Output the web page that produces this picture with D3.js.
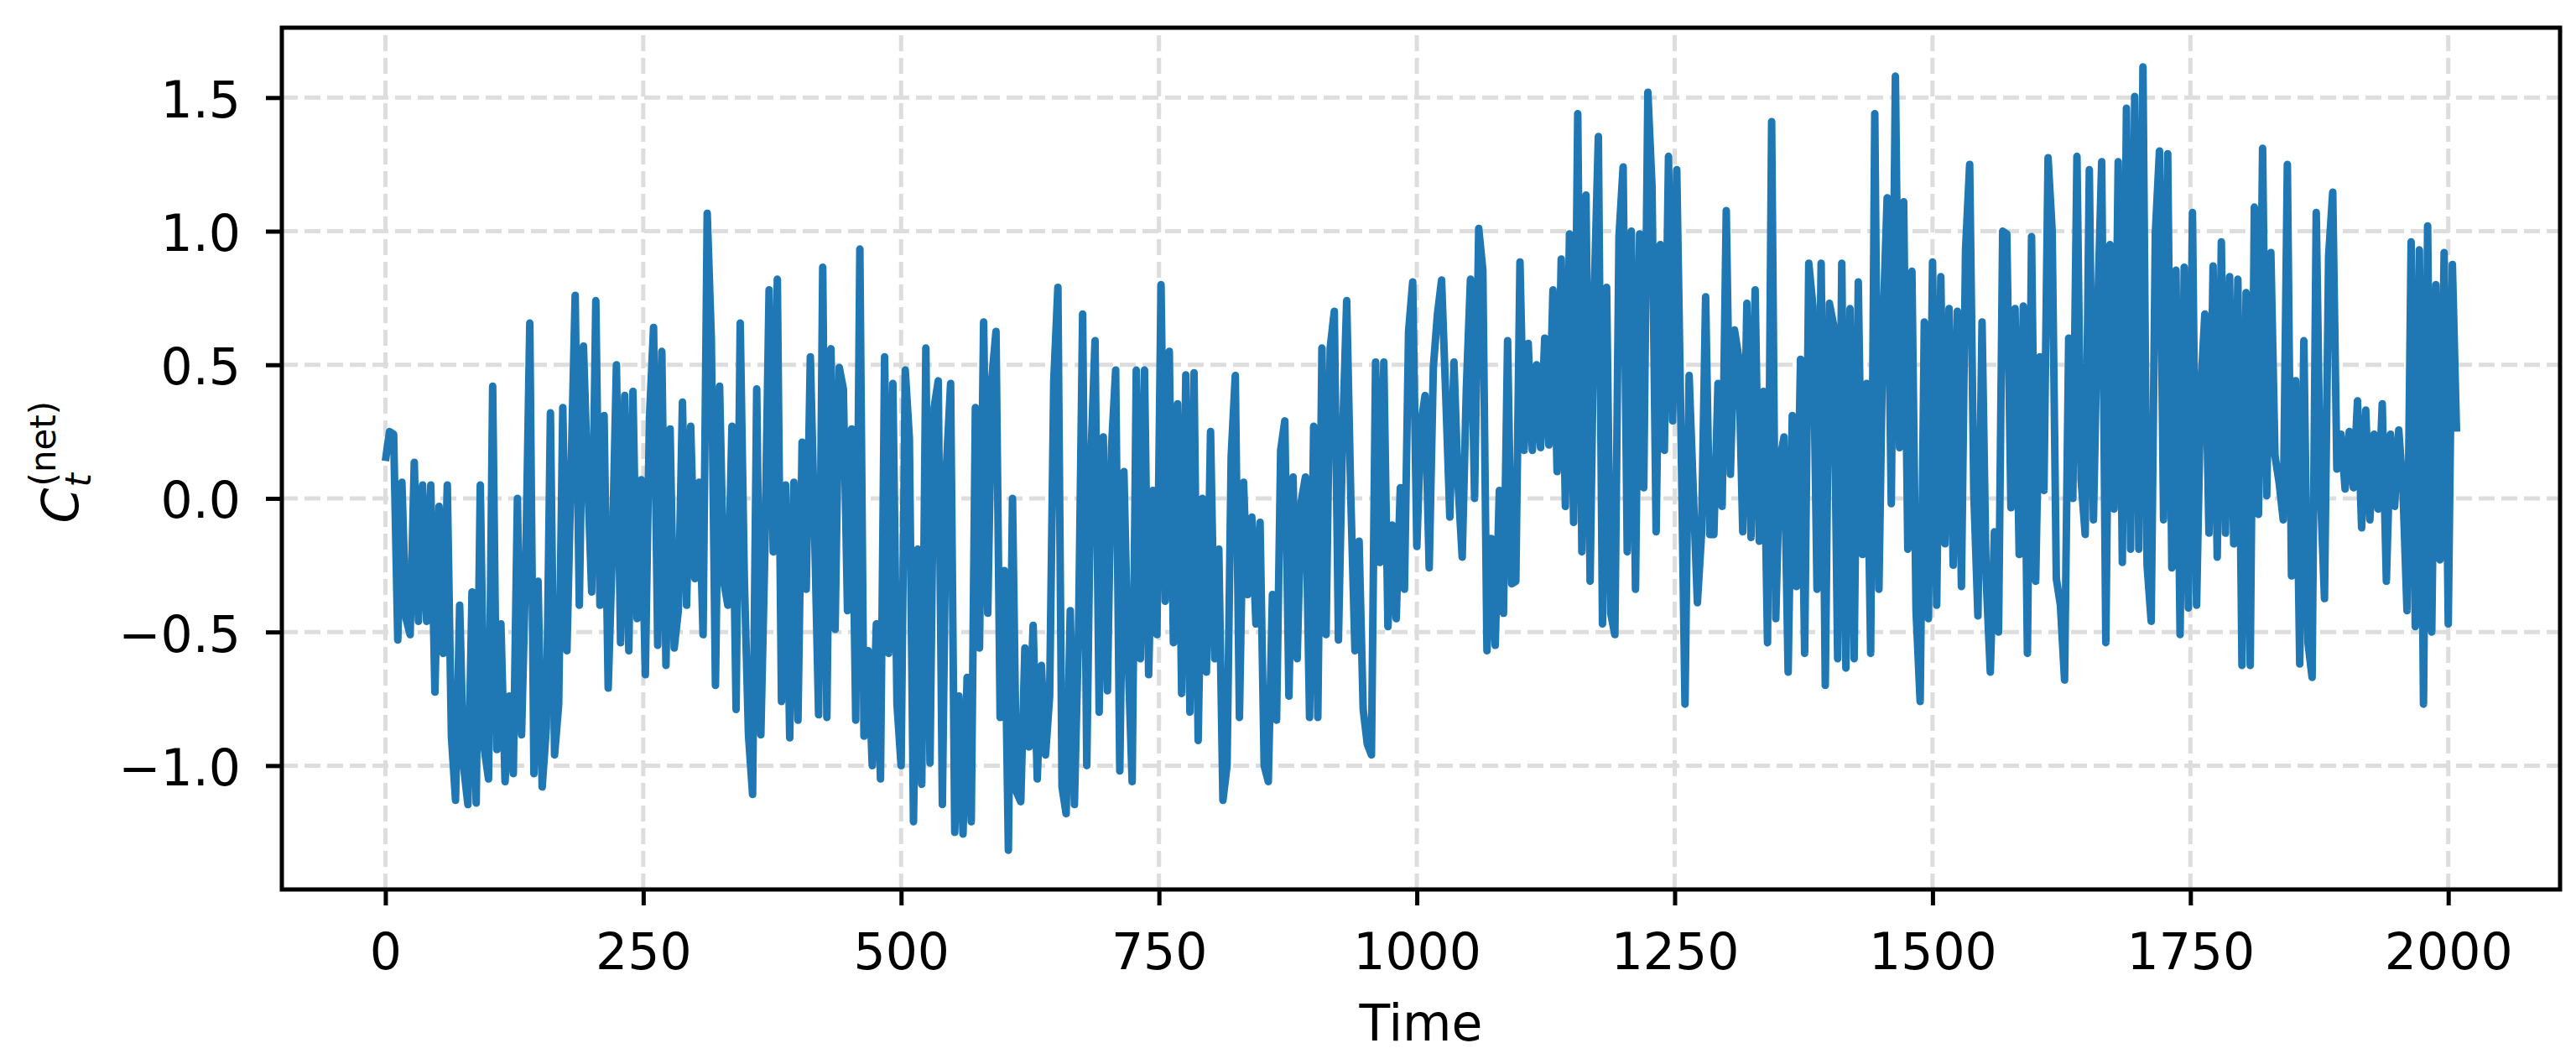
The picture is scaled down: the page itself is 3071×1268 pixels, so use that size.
<!DOCTYPE html>
<html><head><meta charset="utf-8">
<script src="https://cdn.jsdelivr.net/npm/d3@7/dist/d3.min.js"></script>
<style>html,body{margin:0;padding:0;background:#fff;} svg{display:block;}</style>
</head><body>
<svg id="chart" width="3071" height="1268"></svg>
<script>
// ---- data (one value every 4 time steps) ----
const timeStep = 4;
const segmentStarts = [0, 248, 500, 752, 1000, 1256, 1508, 1756];
const valuesA = [0.14,0.25,0.24,-0.53,0.06,-0.45,-0.51,0.135,-0.46,0.05,
  -0.46,0.05,-0.725,-0.03,-0.58,0.05,-0.89,-1.13,-0.40,-1.01,
  -1.146,-0.35,-1.14,0.05,-0.94,-1.05,0.42,-0.94,-0.47,-1.06,
  -0.74,-1.03,0.0,-0.885,-0.26,0.656,-1.03,-0.31,-1.08,-0.86,
  0.32,-0.96,-0.77,0.34,-0.57,0.10,0.76,-0.40,0.57,0.09,
  -0.35,0.74,-0.40,0.31,-0.71,-0.2,0.50,-0.54,0.385,-0.57,
  0.40,-0.45];
const valuesB = [0.07,-0.66,0.3,0.64,-0.55,0.55,-0.625,0.26,-0.56,-0.42,
  0.36,-0.40,0.27,-0.30,0.06,-0.51,1.067,0.60,-0.70,0.42,
  -0.31,-0.40,0.27,-0.79,0.656,-0.3,-0.885,-1.108,0.41,-0.885,
  -0.18,0.78,-0.2,0.82,-0.76,0.05,-0.896,0.06,-0.83,0.21,
  -0.34,0.53,-0.1,-0.81,0.865,-0.82,0.56,-0.49,0.49,0.41,
  -0.42,0.26,-0.83,0.933,-0.89,-0.57,-1.0,-0.47,-1.05,0.53,
  -0.58,0.43,-0.77];
const valuesC = [-1.0,0.48,0.225,-1.21,-0.19,-1.07,0.5625,-0.99,0.34,0.44,
  -1.146,0.125,0.43,-1.25,-0.74,-1.256,-0.67,-1.21,0.34,-0.56,
  0.66,-0.43,0.45,0.625,-0.82,-0.27,-1.317,0.0,-1.1,-1.135,
  -0.56,-0.93,-0.475,-1.05,-0.625,-0.96,-0.74,0.44,0.79,-1.08,
  -1.18,-0.42,-1.146,-0.5,0.69,-1.0,0.146,0.59,-0.80,0.23,
  -0.72,0.19,0.48,-1.02,0.1,-0.58,-1.06,0.48,-0.60,0.48,
  -0.66,0.03,-0.51];
const valuesD = [0.80,-0.385,0.55,-0.54,0.354,-0.73,0.4625,-0.80,0.47,-0.906,
  0.0,-0.65,0.25,-0.60,-0.19,-1.13,-1.0,0.156,0.46,-0.82,
  0.06,-0.36,-0.07,-0.47,-0.09,-1.0,-1.06,-0.36,-0.83,0.18,
  0.29,-0.74,0.08,-0.60,-0.01,0.08,-0.82,0.27,-0.82,0.5625,
  -0.51,0.5625,0.70,-0.53,0.23,0.74,0.0,-0.57,-0.16,-0.79,
  -0.92,-0.96,0.51,-0.24,0.51,-0.48,-0.1,-0.45,0.04,-0.34,
  0.625,0.81];
const valuesE = [-0.18,0.28,0.385,-0.26,0.49,0.69,0.817,0.39,-0.07,0.51,
  0.05,-0.22,0.41,0.82,0.0,1.01,0.854,-0.57,-0.15,-0.55,
  0.03,-0.43,0.59,-0.32,-0.31,0.885,0.18,0.58,0.18,0.50,
  0.19,0.60,0.20,0.78,0.10,0.896,-0.03,0.99,-0.09,1.44,
  -0.20,1.135,-0.31,0.77,1.354,-0.47,0.79,-0.43,-0.51,0.98,
  1.24,-0.20,1.0,-0.34,0.99,0.04,1.52,1.17,-0.125,0.95,
  0.18,1.28,0.29,1.23];
const valuesF = [0.28,-0.77,0.46,0.03,-0.39,-0.135,0.754,-0.135,-0.135,0.43,
  -0.03,1.077,0.09,0.63,0.53,-0.125,0.73,-0.146,0.78,-0.16,
  0.40,-0.54,1.41,-0.45,0.146,0.23,-0.65,0.31,-0.33,0.52,
  -0.58,0.88,0.72,-0.34,0.88,-0.70,0.73,0.65,-0.60,0.88,
  -0.635,0.71,-0.60,0.81,-0.21,0.43,-0.58,1.44,-0.34,0.65,
  1.125,-0.02,1.58,0.19,1.11,-0.19,0.85,-0.42,-0.76,0.66,
  -0.45,0.885,-0.40];
const valuesG = [0.83,-0.17,0.71,-0.25,0.70,-0.33,0.93,1.25,0.02,-0.44,
  0.66,-0.30,-0.65,-0.125,-0.50,1.0,0.99,-0.035,0.71,-0.21,
  0.72,-0.58,0.98,-0.31,0.53,0.03,1.275,1.0,-0.30,-0.40,
  -0.68,0.60,0.0,1.28,0.07,-0.135,1.23,-0.08,0.69,1.26,
  -0.54,0.95,-0.04,1.26,-0.24,1.46,-0.19,1.504,-0.19,1.615,
  -0.25,-0.46,0.99,1.30,-0.08,1.29,-0.26,0.854,-0.51,0.865,
  -0.41,1.07];
const valuesH = [-0.40,0.40,0.69,-0.13,0.87,-0.22,0.96,-0.13,0.83,-0.17,
  0.82,-0.625,0.77,-0.625,1.09,-0.06,1.31,0.01,0.92,0.16,
  0.06,-0.08,1.25,-0.29,0.44,-0.62,0.59,-0.54,-0.67,1.07,
  0.04,-0.375,0.906,1.146,0.11,0.24,0.035,0.25,0.04,0.365,
  -0.11,0.33,-0.08,0.24,-0.04,0.354,-0.31,0.24,-0.03,0.256,
  0.04,-0.42,0.96,-0.48,0.93,-0.77,1.02,-0.5,0.80,-0.23,
  0.92,-0.47,0.875,0.25];
const xTicks = [0, 250, 500, 750, 1000, 1250, 1500, 1750, 2000];
const yTicks = [-1.0, -0.5, 0.0, 0.5, 1.0, 1.5];
const xLabel = "Time";

// ---- build series ----
const segments = [valuesA, valuesB, valuesC, valuesD, valuesE, valuesF, valuesG, valuesH];
const data = [];
segments.forEach((seg, k) => seg.forEach((v, i) => data.push({t: segmentStarts[k] + i * timeStep, v})));

const W = 3071, H = 1268;
const L = 336, R = 3052, T = 33, B = 1060;
const FONT = "'DejaVu Sans', sans-serif";
const FS = 60;

const tExt = d3.extent(data, d => d.t);
const tPad = (tExt[1] - tExt[0]) * 0.05;
const vExt = d3.extent(data, d => d.v);
const vPad = (vExt[1] - vExt[0]) * 0.05;
const x = d3.scaleLinear().domain([tExt[0] - tPad, tExt[1] + tPad]).range([L, R]);
const y = d3.scaleLinear().domain([vExt[0] - vPad, vExt[1] + vPad]).range([B, T]);

const svg = d3.select("#chart");
svg.append("rect").attr("width", W).attr("height", H).attr("fill", "#fff");

// grid
const grid = svg.append("g").attr("stroke", "#dddddd").attr("stroke-width", 5)
  .attr("stroke-dasharray", "19,8");
grid.selectAll("line.gx").data(xTicks).enter().append("line")
  .attr("x1", d => x(d)).attr("x2", d => x(d)).attr("y1", B).attr("y2", T);
grid.selectAll("line.gy").data(yTicks).enter().append("line")
  .attr("y1", d => y(d)).attr("y2", d => y(d)).attr("x1", L).attr("x2", R);

// line
svg.append("path").datum(data)
  .attr("fill", "none").attr("stroke", "#1f77b4").attr("stroke-width", 9)
  .attr("stroke-linejoin", "round").attr("stroke-linecap", "butt")
  .attr("d", d3.line().x(d => x(d.t)).y(d => y(d.v)));

// axes
const fmtY = v => d3.format(".1f")(v).replace("-", "\u2212");
const gx = svg.append("g").attr("transform", `translate(0,${B})`)
  .call(d3.axisBottom(x).tickValues(xTicks).tickSize(19).tickFormat(d3.format("d")));
const gy = svg.append("g").attr("transform", `translate(${L},0)`)
  .call(d3.axisLeft(y).tickValues(yTicks).tickSize(19).tickFormat(fmtY));
[gx, gy].forEach(g => {
  g.select(".domain").remove();
  g.selectAll(".tick line").attr("stroke", "#000").attr("stroke-width", 5);
  g.selectAll(".tick text").attr("fill", "#000").style("font-family", FONT).style("font-size", FS + "px");
});
gx.selectAll(".tick text").attr("y", 95).attr("dy", 0);
gy.selectAll(".tick text").attr("x", -49).attr("dy", 23);

// spines
svg.append("rect").attr("x", L).attr("y", T).attr("width", R - L).attr("height", B - T)
  .attr("fill", "none").attr("stroke", "#000").attr("stroke-width", 5);

// x label
svg.append("text").attr("x", (L + R) / 2).attr("y", 1240).attr("text-anchor", "middle")
  .style("font-family", FONT).style("font-size", FS + "px").text(xLabel);

// y label: C_t^{(net)}
const yl = svg.append("g").attr("transform", `translate(93,${(T + B) / 2 + 5}) rotate(-90)`);
const ylt = yl.append("text").attr("x", -72).attr("y", 0).style("font-family", FONT).style("font-size", FS + "px");
ylt.append("tspan").style("font-style", "italic").text("C");
yl.append("text").attr("x", -72 + 43).attr("y", 15).style("font-family", FONT)
  .style("font-size", "42px").style("font-style", "italic").text("t");
yl.append("text").attr("x", -72 + 44).attr("y", -27).style("font-family", FONT)
  .style("font-size", "42px").text("(net)");
</script>
</body></html>
